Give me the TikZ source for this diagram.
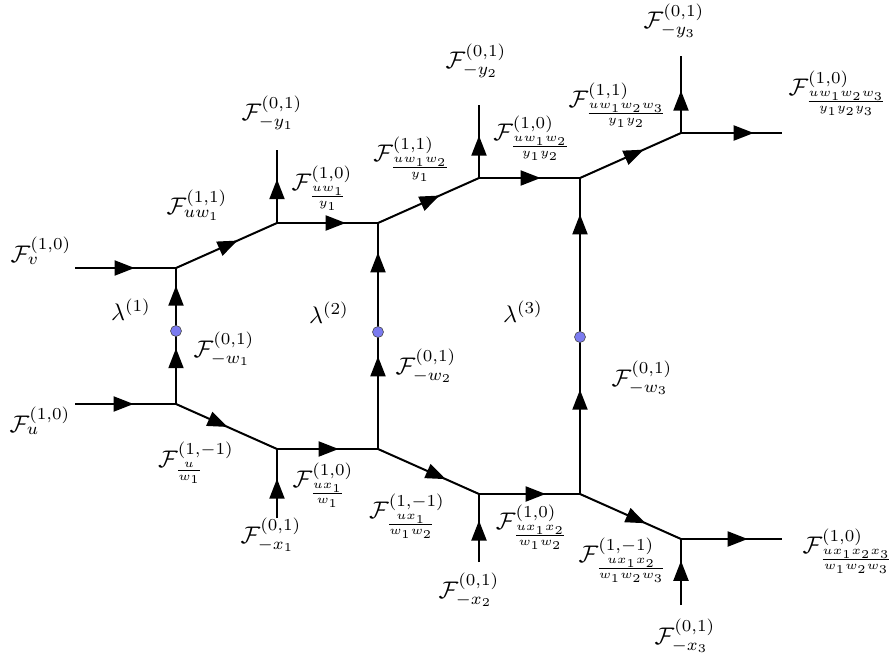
\documentclass[tikz,border=0pt]{standalone}
\usepackage{amsmath}
\usepackage{graphicx}
\usetikzlibrary{arrows.meta,decorations.markings}
\definecolor{dotblue}{HTML}{7B7BF0}
\newcommand{\mylab}[1]{\scalebox{2.4}{$#1$}}
\tikzset{
  arr/.style={postaction={decorate,decoration={markings,
     mark=at position #1 with {\arrow{Triangle[length=20pt,width=15pt]}}}}},
  twoarr/.style 2 args={postaction={decorate,decoration={markings,
     mark=at position #1 with {\arrow{Triangle[length=20pt,width=15pt]}},
     mark=at position #2 with {\arrow{Triangle[length=20pt,width=15pt]}}}}},
  edge/.style={line width=2pt},
  lab/.style={inner sep=0pt},
  bdot/.style={circle, fill=dotblue, draw=black!70, line width=0.6pt, minimum size=11pt, inner sep=0pt}
}
\begin{document}
\begin{tikzpicture}[x=1pt,y=-1pt]
\useasboundingbox (0,0) rectangle (895,656);
% vertices
\coordinate (V1) at (176,268);
\coordinate (V2) at (277,223);
\coordinate (V3) at (378,223);
\coordinate (V4) at (479,178);
\coordinate (V5) at (580,178);
\coordinate (V6) at (681,133);
\coordinate (L1) at (176,404);
\coordinate (L2) at (277,449);
\coordinate (L3) at (378,449);
\coordinate (L4) at (479,494);
\coordinate (L5) at (580,494);
\coordinate (L6) at (681,539);
% free ends
\coordinate (inV) at (75,268);
\coordinate (y1) at (277,150);
\coordinate (y2) at (479,105);
\coordinate (y3) at (681,56);
\coordinate (outT) at (782,133);
\coordinate (inU) at (75,404);
\coordinate (x1) at (277,518);
\coordinate (x2) at (479,562);
\coordinate (x3) at (681,605);
\coordinate (outB) at (782,539);
% upper edges
\draw[edge,arr=0.59] (inV) -- (V1);
\draw[edge,arr=0.61] (V1) -- (V2);
\draw[edge,arr=0.6] (V2) -- (y1);
\draw[edge,arr=0.68] (V2) -- (V3);
\draw[edge,arr=0.61] (V3) -- (V4);
\draw[edge,arr=0.58] (V4) -- (y2);
\draw[edge,arr=0.61] (V4) -- (V5);
\draw[edge,arr=0.63] (V5) -- (V6);
\draw[edge,arr=0.55] (V6) -- (y3);
\draw[edge,arr=0.72] (V6) -- (outT);
% lower edges
\draw[edge,arr=0.58] (inU) -- (L1);
\draw[edge,arr=0.51] (L1) -- (L2);
\draw[edge,arr=0.57] (x1) -- (L2);
\draw[edge,arr=0.61] (L2) -- (L3);
\draw[edge,arr=0.67] (L3) -- (L4);
\draw[edge,arr=0.61] (x2) -- (L4);
\draw[edge,arr=0.66] (L4) -- (L5);
\draw[edge,arr=0.65] (L5) -- (L6);
\draw[edge,arr=0.67] (x3) -- (L6);
\draw[edge,arr=0.66] (L6) -- (outB);
% vertical connections
\draw[edge,twoarr={0.41}{0.87}] (L1) -- (V1);
\draw[edge,twoarr={0.41}{0.87}] (L3) -- (V3);
\draw[edge,twoarr={0.33}{0.885}] (L5) -- (V5);
\node[bdot] (d1) at (176,331) {};
\node[bdot] (d2) at (378,332) {};
\node[bdot] (d3) at (580,337) {};
% labels
\node[lab] (lv) at (41,251) {\mylab{\mathcal{F}_{v}^{(1,0)}}};
\node[lab] (luw1) at (197,205) {\mylab{\mathcal{F}_{uw_1}^{(1,1)}}};
\node[lab] (ly1) at (272,113) {\mylab{\mathcal{F}_{-y_1}^{(0,1)}}};
\node[lab] (la1) at (322,188) {\mylab{\mathcal{F}_{\frac{uw_1}{y_1}}^{(1,0)}}};
\node[lab] (la2) at (412,159) {\mylab{\mathcal{F}_{\frac{uw_1w_2}{y_1}}^{(1,1)}}};
\node[lab] (ly2) at (476,61) {\mylab{\mathcal{F}_{-y_2}^{(0,1)}}};
\node[lab] (la3) at (532,138) {\mylab{\mathcal{F}_{\frac{uw_1w_2}{y_1y_2}}^{(1,0)}}};
\node[lab] (la4) at (618,105) {\mylab{\mathcal{F}_{\frac{uw_1w_2w_3}{y_1y_2}}^{(1,1)}}};
\node[lab] (ly3) at (674,21) {\mylab{\mathcal{F}_{-y_3}^{(0,1)}}};
\node[lab] (la5) at (838,93) {\mylab{\mathcal{F}_{\frac{uw_1w_2w_3}{y_1y_2y_3}}^{(1,0)}}};
\node[lab] (lam1) at (131,310) {\mylab{\lambda^{(1)}}};
\node[lab] (lam2) at (329,313) {\mylab{\lambda^{(2)}}};
\node[lab] (lam3) at (523,312) {\mylab{\lambda^{(3)}}};
\node[lab] (lw1) at (224,349) {\mylab{\mathcal{F}_{-w_1}^{(0,1)}}};
\node[lab] (lw2) at (426,366) {\mylab{\mathcal{F}_{-w_2}^{(0,1)}}};
\node[lab] (lw3) at (642,378) {\mylab{\mathcal{F}_{-w_3}^{(0,1)}}};
\node[lab] (lu) at (40,421) {\mylab{\mathcal{F}_{u}^{(1,0)}}};
\node[lab] (lb1) at (196,463) {\mylab{\mathcal{F}_{\frac{u}{w_1}}^{(1,-1)}}};
\node[lab] (lx1) at (271,535) {\mylab{\mathcal{F}_{-x_1}^{(0,1)}}};
\node[lab] (lb2) at (323,485) {\mylab{\mathcal{F}_{\frac{ux_1}{w_1}}^{(1,0)}}};
\node[lab] (lb3) at (407,516) {\mylab{\mathcal{F}_{\frac{ux_1}{w_1w_2}}^{(1,-1)}}};
\node[lab] (lx2) at (469,590) {\mylab{\mathcal{F}_{-x_2}^{(0,1)}}};
\node[lab] (lb4) at (532,527) {\mylab{\mathcal{F}_{\frac{ux_1x_2}{w_1w_2}}^{(1,0)}}};
\node[lab] (lb5) at (623,560) {\mylab{\mathcal{F}_{\frac{ux_1x_2}{w_1w_2w_3}}^{(1,-1)}}};
\node[lab] (lx3) at (685,636) {\mylab{\mathcal{F}_{-x_3}^{(0,1)}}};
\node[lab] (lb6) at (848,551) {\mylab{\mathcal{F}_{\frac{ux_1x_2x_3}{w_1w_2w_3}}^{(1,0)}}};
\end{tikzpicture}
\end{document}
